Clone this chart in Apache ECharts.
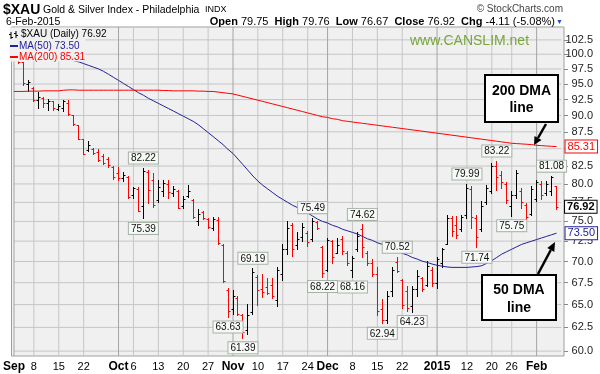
<!DOCTYPE html>
<html><head><meta charset="utf-8">
<script src="https://cdn.jsdelivr.net/npm/echarts@6/dist/echarts.min.js"></script>
<style>html,body{margin:0;padding:0;background:#fff}#c{width:600px;height:374px}</style>
</head><body><div id="c"></div>
<script>
const dates = ['2014-09-02','2014-09-03','2014-09-04','2014-09-05','2014-09-08','2014-09-09','2014-09-10','2014-09-11','2014-09-12','2014-09-15','2014-09-16','2014-09-17','2014-09-18','2014-09-19','2014-09-22','2014-09-23','2014-09-24','2014-09-25','2014-09-26','2014-09-29','2014-09-30',
'2014-10-01','2014-10-02','2014-10-03','2014-10-06','2014-10-07','2014-10-08','2014-10-09','2014-10-10','2014-10-13','2014-10-14','2014-10-15','2014-10-16','2014-10-17','2014-10-20','2014-10-21','2014-10-22','2014-10-23','2014-10-24','2014-10-27','2014-10-28','2014-10-29','2014-10-30','2014-10-31',
'2014-11-03','2014-11-04','2014-11-05','2014-11-06','2014-11-07','2014-11-10','2014-11-11','2014-11-12','2014-11-13','2014-11-14','2014-11-17','2014-11-18','2014-11-19','2014-11-20','2014-11-21','2014-11-24','2014-11-25','2014-11-26','2014-11-28',
'2014-12-01','2014-12-02','2014-12-03','2014-12-04','2014-12-05','2014-12-08','2014-12-09','2014-12-10','2014-12-11','2014-12-12','2014-12-15','2014-12-16','2014-12-17','2014-12-18','2014-12-19','2014-12-22','2014-12-23','2014-12-24','2014-12-26','2014-12-29','2014-12-30','2014-12-31',
'2015-01-02','2015-01-05','2015-01-06','2015-01-07','2015-01-08','2015-01-09','2015-01-12','2015-01-13','2015-01-14','2015-01-15','2015-01-16','2015-01-20','2015-01-21','2015-01-22','2015-01-23','2015-01-26','2015-01-27','2015-01-28','2015-01-29','2015-01-30',
'2015-02-02','2015-02-03','2015-02-04','2015-02-05','2015-02-06'];

const open = [101.8,100.5,98.6,95.0,94.3,92.5,92.8,91.9,92.2,91.0,91.2,92.0,90.1,88.6,86.4,84.8,85.0,84.5,84.0,83.5,82.4,
81.5,80.8,81.0,78.5,79.3,77.0,81.7,80.5,77.8,79.0,80.0,78.8,79.0,77.0,78.4,77.8,75.0,76.2,75.3,74.2,75.2,72.0,66.7,
64.5,65.8,63.8,62.2,64.2,68.2,66.8,67.0,67.2,65.5,68.5,71.5,74.5,72.0,73.0,73.5,72.8,74.9,71.8,
69.0,72.5,71.0,72.8,71.0,69.0,71.5,74.0,71.0,69.8,68.5,64.5,63.3,66.5,70.0,67.8,66.5,64.8,66.8,68.0,67.2,69.0,
67.5,69.8,72.2,75.5,74.5,74.0,75.8,79.3,75.5,74.0,77.5,79.0,82.5,81.2,80.0,77.0,78.5,79.0,77.2,76.0,
78.0,80.0,78.8,79.0,79.75];
const high = [102.3,100.9,98.6,95.6,94.6,93.7,92.9,92.6,92.3,91.8,92.4,92.4,90.1,88.6,86.4,86.2,85.1,84.9,84.2,83.8,82.5,
82.4,81.6,81.1,79.6,79.6,82.22,82.0,81.5,80.5,80.5,80.5,79.7,79.2,78.3,79.8,77.9,76.6,76.3,75.5,75.6,75.6,72.1,66.9,
66.6,66.0,64.0,65.1,69.19,68.4,68.5,68.1,68.0,69.3,72.1,75.0,74.8,73.6,74.8,73.8,75.49,75.0,71.9,
72.9,72.7,72.9,73.1,71.3,70.7,73.6,74.62,71.3,70.3,69.3,65.6,66.5,69.3,70.52,67.9,67.1,67.1,69.0,68.2,70.05,69.3,
70.5,71.7,75.9,75.7,75.7,75.9,79.99,79.7,75.9,77.65,79.9,83.0,83.22,81.8,80.2,79.0,81.9,79.5,77.4,79.7,
80.6,80.4,80.4,81.08,79.76];
const low = [100.2,98.5,94.9,93.8,92.3,91.2,91.4,90.8,90.8,90.8,90.7,90.1,88.6,86.4,84.2,84.7,84.2,83.2,82.8,82.4,80.7,
80.6,80.4,78.1,78.1,76.3,75.39,77.4,76.9,77.6,78.3,78.1,78.3,76.7,76.8,78.2,75.5,74.5,75.3,74.2,73.9,72.2,67.6,63.63,
64.0,63.9,61.39,61.8,64.0,65.0,65.9,66.2,65.8,64.8,67.8,70.9,70.7,71.5,72.5,71.9,72.5,74.0,68.22,
68.9,69.8,71.0,70.9,69.6,68.16,71.3,70.5,69.6,68.3,63.9,62.94,63.0,66.0,68.7,64.6,64.3,64.23,66.0,66.5,67.1,67.1,
66.9,69.3,72.1,73.1,72.9,73.8,75.5,74.2,71.74,73.8,77.3,78.8,79.2,79.5,77.4,75.75,78.1,76.8,75.0,75.9,
77.65,77.9,78.5,78.5,76.67];
const close = [100.6,98.7,95.1,95.3,92.4,92.9,92.0,92.3,91.2,91.5,92.2,90.2,88.7,86.5,84.3,85.6,84.4,83.3,83.0,82.6,80.9,
80.8,81.3,78.2,79.4,76.4,81.8,79.2,77.2,79.6,80.1,78.9,79.3,76.8,77.9,79.0,75.6,76.0,75.5,74.3,75.3,72.3,67.7,64.3,
66.0,64.0,62.0,63.9,68.8,66.6,66.4,66.3,66.0,69.0,71.5,74.2,71.5,72.8,74.3,72.4,75.0,74.2,68.6,
72.7,70.5,72.0,71.3,69.8,70.4,73.2,71.8,69.8,68.5,64.3,63.3,66.0,69.0,68.9,65.0,64.6,66.8,68.3,66.8,69.5,67.5,
70.3,71.5,75.5,73.8,73.3,75.6,79.5,75.6,73.0,77.0,79.5,82.5,81.0,80.2,77.8,78.5,81.5,77.5,75.6,79.3,
80.3,78.5,80.0,81.03,76.92];
const ma50 = [101.5,101.4,101.3,101.1,100.9,100.7,100.4,100.1,99.9,99.6,99.4,99.2,98.9,98.7,98.4,98.1,97.8,97.5,97.1,96.6,96.1,
95.6,95.1,94.6,94.1,93.6,93.2,92.7,92.3,91.9,91.5,91.1,90.7,90.3,89.9,89.5,89.1,88.6,88.0,87.4,86.8,86.2,85.6,84.9,
84.3,83.5,82.7,81.9,81.1,80.4,79.8,79.3,78.8,78.3,77.9,77.5,77.1,76.8,76.5,76.1,75.7,75.3,75.0,
74.8,74.5,74.3,74.0,73.8,73.6,73.4,73.1,72.8,72.6,72.3,72.1,71.8,71.5,71.3,71.0,70.8,70.5,70.3,70.05,69.9,69.7,
69.55,69.45,69.35,69.3,69.3,69.3,69.3,69.35,69.4,69.5,69.8,70.1,70.5,70.9,71.2,71.5,71.8,72.1,72.3,72.5,
72.7,72.9,73.1,73.3,73.5];
const ma200 = [93.8,93.8,93.8,93.85,93.85,93.85,93.9,93.9,93.9,93.9,94.0,94.05,94.05,94.0,94.0,94.0,94.0,94.0,94.0,94.0,94.0,
94.0,94.0,94.0,94.0,94.0,94.0,94.0,94.0,94.0,93.95,93.95,93.9,93.9,93.9,93.9,93.9,93.85,93.85,93.8,93.8,93.7,93.6,93.5,
93.4,93.2,93.0,92.8,92.6,92.4,92.2,92.0,91.8,91.6,91.4,91.2,91.0,90.8,90.6,90.4,90.2,90.0,89.8,
89.7,89.5,89.4,89.2,89.1,89.0,88.9,88.8,88.7,88.6,88.5,88.4,88.3,88.2,88.1,88.0,87.9,87.8,87.7,87.6,87.5,87.4,
87.3,87.2,87.1,87.0,86.9,86.8,86.7,86.6,86.5,86.4,86.3,86.2,86.1,86.0,85.9,85.8,85.75,85.7,85.65,85.6,
85.5,85.45,85.4,85.35,85.31];

const yTicks = [60,62.5,65,67.5,70,72.5,75,77.5,80,82.5,85,87.5,90,92.5,95,97.5,100,102.5];
const xTickDates = ['2014-09-02','2014-09-08','2014-09-15','2014-09-22','2014-10-01','2014-10-06','2014-10-13','2014-10-20','2014-10-27','2014-11-03','2014-11-10','2014-11-17','2014-11-24','2014-12-01','2014-12-08','2014-12-15','2014-12-22','2015-01-02','2015-01-12','2015-01-20','2015-01-26','2015-02-02'];
const xTickText = ['Sep','8','15','22','Oct','6','13','20','27','Nov','10','17','24','Dec','8','15','22','2015','12','20','26','Feb'];
const monthLabels = ['Sep','Oct','Nov','Dec','2015','Feb'];

const noteIdx  = [26,26,43,46,48,60,62,68,70,74,77,80,91,93,97,100,108];
const noteVal  = [82.22,75.39,63.63,61.39,69.19,75.49,68.22,68.16,74.62,62.94,70.52,64.23,79.99,71.74,83.22,75.75,81.08];
const noteSide = ['top','bottom','bottom','bottom','top','top','bottom','bottom','top','bottom','top','bottom','top','bottom','top','bottom','top'];

const FONT = 'Liberation Sans, Arial, sans-serif';
const PLOT_BG = '#f0f0f0';
const Y_MIN = 59.5, Y_MAX = 104.8;
const tickMap = {};
xTickDates.forEach((d,i)=>{tickMap[d]=xTickText[i];});

const ohlc = dates.map((d,i)=>[i, open[i], high[i], low[i], close[i], (i===0 ? close[i]>=open[i] : close[i]>=close[i-1]) ? 1 : 0]);

const notes = noteIdx.map((ix,k)=>({
  coord:[dates[ix], noteVal[k]], value:noteVal[k],
  label:{position:noteSide[k]}
}));

const gridSeries = [];
yTicks.forEach(v=>{
  gridSeries.push({type:'line', z:1, symbol:'none', animation:false, data:[[0, v],[dates.length, v]],
    lineStyle:{color:'#c6c6c6', width:1}, emphasis:{disabled:true}, tooltip:{show:false}});
});
xTickDates.forEach((d,k)=>{
  const isMonth = monthLabels.indexOf(xTickText[k])>=0;
  const ix = dates.indexOf(d);
  gridSeries.push({type:'line', z: isMonth ? 1.5 : 1, symbol:'none', animation:false, data:[[ix, Y_MIN],[ix, Y_MAX]],
    lineStyle:{color: isMonth ? '#a4a4a4' : '#c6c6c6', width:1}, emphasis:{disabled:true}, tooltip:{show:false}});
});

const chart = echarts.init(document.getElementById('c'), null, {renderer:'canvas'});
chart.setOption({
  animation:false,
  backgroundColor:'#ffffff',
  textStyle:{fontFamily:FONT},
  grid:{left:9, right:36, top:27, bottom:18, show:true, backgroundColor:PLOT_BG, borderColor:'#98a398', borderWidth:1},
  xAxis:{type:'category', data:dates.concat(['']), boundaryGap:true,
    axisLine:{show:false}, axisTick:{show:false}, splitLine:{show:false},
    axisLabel:{interval:(idx,val)=>tickMap[val]!==undefined, hideOverlap:false,
      formatter:(val)=>{const t=tickMap[val]; if(t===undefined) return ''; return monthLabels.indexOf(t)>=0 ? '{m|'+t+'}' : t;},
      color:'#000', fontSize:11, margin:5, fontFamily:FONT,
      rich:{m:{fontWeight:'bold', fontSize:12, color:'#000', fontFamily:FONT}}}
  },
  yAxis:{type:'log', logBase:10, position:'right', min:Y_MIN, max:Y_MAX,
    axisLine:{show:false}, splitLine:{show:false},
    axisTick:{show:true, customValues:yTicks, length:4, lineStyle:{color:'#888'}},
    axisLabel:{customValues:yTicks, formatter:(v)=>Number(v).toFixed(1), color:'#222', fontSize:11, align:'right', margin:29, fontFamily:FONT}
  },
  series: gridSeries.concat([
    {type:'custom', name:'$XAU', z:2, data:ohlc, encode:{x:0, y:[1,2,3,4]},
      renderItem:function(params, api){
        const i=api.value(0), o=api.value(1), h=api.value(2), l=api.value(3), c=api.value(4), up=api.value(5);
        const pH=api.coord([i,h]), pL=api.coord([i,l]), pO=api.coord([i,o]), pC=api.coord([i,c]);
        const cx=Math.floor(pH[0])+0.5;
        const col= up ? '#000000' : '#ff0000';
        const yo=Math.round(pO[1])+0.5, yc=Math.round(pC[1])+0.5;
        return {type:'group', children:[
          {type:'line', shape:{x1:cx,y1:Math.round(pH[1]),x2:cx,y2:Math.round(pL[1])+1}, style:{stroke:col,lineWidth:1}},
          {type:'line', shape:{x1:cx-2,y1:yo,x2:cx,y2:yo}, style:{stroke:col,lineWidth:1}},
          {type:'line', shape:{x1:cx,y1:yc,x2:cx+2,y2:yc}, style:{stroke:col,lineWidth:1}}
        ]};
      }},
    {type:'line', name:'MA(50)', data:ma50, z:3, symbol:'none', smooth:false,
      lineStyle:{color:'#22229a', width:1}, itemStyle:{color:'#22229a'},
      endLabel:{show:true, distance:9, formatter:(p)=>Number(p.value).toFixed(2), color:'#22229a', fontSize:11,
        backgroundColor:'#ffffff', borderColor:'#22229a', borderWidth:1, padding:[1,2,0,2], fontFamily:FONT},
      markPoint:{symbol:'rect', symbolSize:1, itemStyle:{color:'rgba(0,0,0,0)'}, silent:true,
        data:[{coord:[dates[dates.length-1], close[close.length-1]], value:close[close.length-1]}],
        label:{show:true, position:'right', distance:8, formatter:(p)=>Number(p.value).toFixed(2), color:'#000', fontWeight:'bold', fontSize:11,
          backgroundColor:'#ffffff', borderColor:'#000', borderWidth:1, padding:[1,2,0,2], fontFamily:FONT}}},
    {type:'line', name:'MA(200)', data:ma200, z:3, symbol:'none', smooth:false,
      lineStyle:{color:'#ff0000', width:1}, itemStyle:{color:'#ff0000'},
      endLabel:{show:true, distance:9, formatter:(p)=>Number(p.value).toFixed(2), color:'#ff0000', fontSize:11,
        backgroundColor:'#ffffff', borderColor:'#ff0000', borderWidth:1, padding:[1,2,0,2], fontFamily:FONT},
      markPoint:{symbol:'rect', symbolSize:1, itemStyle:{color:'rgba(0,0,0,0)'}, silent:true, data:notes,
        label:{show:true, distance:4, formatter:(p)=>Number(p.value).toFixed(2), color:'#111', fontSize:10,
          backgroundColor:'#f7f9f7', borderColor:'#a6b2a6', borderWidth:1, padding:[1,2,0,2], fontFamily:FONT}}}
  ]),
  graphic:[
    {type:'text', x:3, y:10, z:100, style:{text:'$XAU', font:'bold 14px '+FONT, fill:'#000', textVerticalAlign:'middle'}},
    {type:'text', x:43, y:10, z:100, style:{text:'Gold & Silver Index - Philadelphia', font:'10.5px '+FONT, fill:'#000', textVerticalAlign:'middle'}},
    {type:'text', x:205, y:10, z:100, style:{text:'INDX', font:'9px '+FONT, fill:'#000', textVerticalAlign:'middle'}},
    {type:'text', x:6, y:22, z:100, style:{text:'6-Feb-2015', font:'10.5px '+FONT, fill:'#000', textVerticalAlign:'middle'}},
    {type:'text', x:563, y:9, z:100, style:{text:'\u00a9 StockCharts.com', font:'10px '+FONT, fill:'#444', textAlign:'right', textVerticalAlign:'middle'}},
    {type:'text', x:555, y:22, z:100, style:{text:'{b|Open} 79.75  {b|High} 79.76  {b|Low} 76.67  {b|Close} 76.92  {b|Chg} -4.11 (-5.08%)',
      font:'11px '+FONT, fill:'#000', textAlign:'right', textVerticalAlign:'middle', rich:{b:{font:'bold 11px '+FONT, fill:'#000'}}}},
    {type:'text', x:556, y:22, z:100, style:{text:'\u25bc', font:'7px '+FONT, fill:'#1f4fd6', textVerticalAlign:'middle'}},
    {type:'rect', z:100, shape:{x:9.5, y:27.5, width:76, height:34}, style:{fill:PLOT_BG}},
    {type:'polyline', z:101, shape:{points:[[11,32],[11,39]]}, style:{stroke:'#000', fill:null, lineWidth:1}},
    {type:'polyline', z:101, shape:{points:[[9,34.5],[11,34.5]]}, style:{stroke:'#000', fill:null, lineWidth:1}},
    {type:'polyline', z:101, shape:{points:[[11,37.5],[13,37.5]]}, style:{stroke:'#000', fill:null, lineWidth:1}},
    {type:'polyline', z:101, shape:{points:[[16,31],[16,38]]}, style:{stroke:'#000', fill:null, lineWidth:1}},
    {type:'polyline', z:101, shape:{points:[[14,33.5],[16,33.5]]}, style:{stroke:'#000', fill:null, lineWidth:1}},
    {type:'polyline', z:101, shape:{points:[[16,35.5],[18,35.5]]}, style:{stroke:'#000', fill:null, lineWidth:1}},
    {type:'text', x:21, y:34, z:101, style:{text:'$XAU (Daily) '+close[close.length-1].toFixed(2), font:'10px '+FONT, fill:'#000', textVerticalAlign:'middle'}},
    {type:'rect', z:101, shape:{x:10, y:45, width:8, height:2}, style:{fill:'#22229a'}},
    {type:'text', x:19, y:46, z:101, style:{text:'MA(50) '+ma50[ma50.length-1].toFixed(2), font:'10px '+FONT, fill:'#22229a', textVerticalAlign:'middle'}},
    {type:'rect', z:101, shape:{x:10, y:56, width:8, height:2}, style:{fill:'#ff0000'}},
    {type:'text', x:19, y:57, z:101, style:{text:'MA(200) '+ma200[ma200.length-1].toFixed(2), font:'10px '+FONT, fill:'#ff0000', textVerticalAlign:'middle'}},
    {type:'text', x:410, y:41, z:100, style:{text:'www.CANSLIM.net', font:'14px '+FONT, fill:'#78a63c', textVerticalAlign:'middle'}},
    {type:'rect', z:100, shape:{x:485, y:75, width:73, height:47}, style:{fill:'#fff', stroke:'#000', lineWidth:2}},
    {type:'text', x:521.5, y:91, z:101, style:{text:'200 DMA', font:'bold 14px '+FONT, fill:'#000', textAlign:'center', textVerticalAlign:'middle'}},
    {type:'text', x:521.5, y:108, z:101, style:{text:'line', font:'bold 14px '+FONT, fill:'#000', textAlign:'center', textVerticalAlign:'middle'}},
    {type:'line', z:100, shape:{x1:546, y1:124, x2:538, y2:138}, style:{stroke:'#000', lineWidth:2.5}},
    {type:'polygon', z:100, shape:{points:[[534,145],[541.5,140],[534.5,136]]}, style:{fill:'#000'}},
    {type:'rect', z:100, shape:{x:482, y:275, width:74, height:45}, style:{fill:'#fff', stroke:'#000', lineWidth:2}},
    {type:'text', x:519, y:290, z:101, style:{text:'50 DMA', font:'bold 14px '+FONT, fill:'#000', textAlign:'center', textVerticalAlign:'middle'}},
    {type:'text', x:519, y:308, z:101, style:{text:'line', font:'bold 14px '+FONT, fill:'#000', textAlign:'center', textVerticalAlign:'middle'}},
    {type:'line', z:100, shape:{x1:538, y1:274, x2:550.8, y2:250}, style:{stroke:'#000', lineWidth:2.5}},
    {type:'polygon', z:100, shape:{points:[[555,242],[554.3,251.9],[547.3,248.1]]}, style:{fill:'#000'}}
  ]
});
</script></body></html>
